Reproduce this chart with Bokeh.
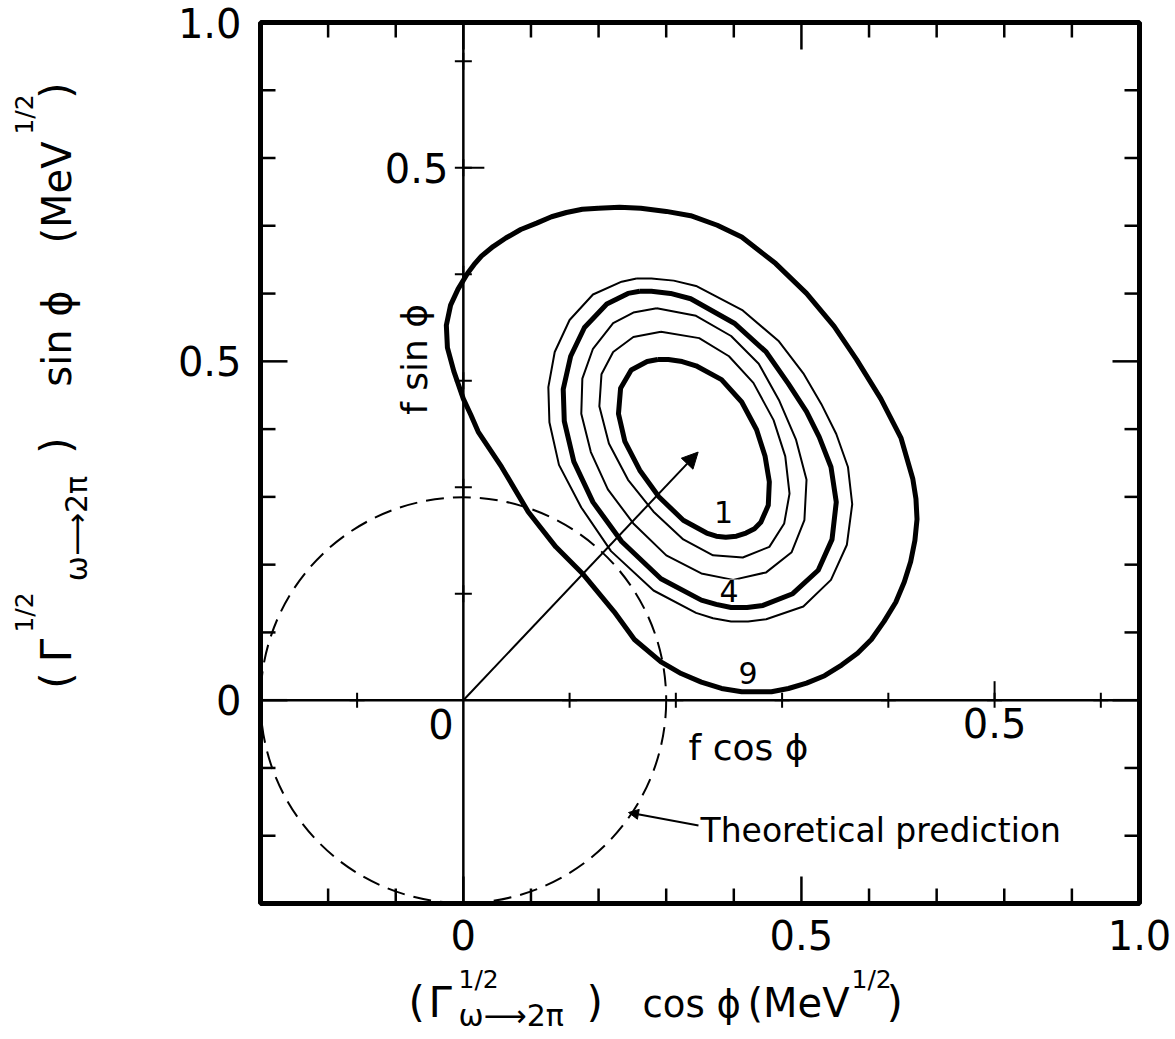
import numpy as np
from bokeh.plotting import figure
from bokeh.models import Range1d, Label, Arrow, NormalHead
from bokeh.core.properties import value
from bokeh.embed import file_html
from bokeh.resources import INLINE

# ---------------- data ----------------
BOX = (-0.3, 1.0)              # outer box, both axes: (Gamma^1/2) cos/sin phi (MeV^1/2)
F_PER_OUTER = 0.6364           # inner f-axes units per outer unit

OUTER_MAJOR = [0.0, 0.5]
OUTER_MINOR = [-0.2, -0.1, 0.1, 0.2, 0.3, 0.4, 0.6, 0.7, 0.8, 0.9]
OUTER_TICK_LABELS = [(0.0, "0"), (0.5, "0.5"), (1.0, "1.0")]

INNER_MINOR_X = [-0.1, 0.1, 0.2, 0.3, 0.4, 0.6]
INNER_MINOR_Y = [0.1, 0.2, 0.3, 0.4, 0.6]
INNER_MAJOR = [0.5]

THEORY_RADIUS = 0.3            # theoretical prediction circle (outer units)
ARROW_TIP_F = (0.221, 0.233)   # best fit (f cos phi, f sin phi)

# chi-square contours in (f cos phi, f sin phi)
c9_x = [0.127, 0.147, 0.167, 0.191, 0.214, 0.239, 0.262, 0.294, 0.323, 0.349, 0.370, 0.393,
        0.412, 0.423, 0.426, 0.427, 0.425, 0.421, 0.415, 0.407, 0.396, 0.384, 0.371, 0.356,
        0.340, 0.323, 0.306, 0.290, 0.262, 0.243, 0.224, 0.205, 0.186, 0.161, 0.142, 0.113,
        0.087, 0.061, 0.036, 0.014, 0.007, 0.000, -0.009, -0.015, -0.016, -0.012, -0.005,
        0.004, 0.010, 0.017, 0.028, 0.040, 0.054, 0.069, 0.083, 0.097, 0.112]
c9_y = [0.462, 0.463, 0.462, 0.459, 0.455, 0.446, 0.435, 0.410, 0.382, 0.351, 0.320, 0.283,
        0.246, 0.208, 0.189, 0.170, 0.150, 0.130, 0.111, 0.092, 0.074, 0.057, 0.044, 0.033,
        0.023, 0.016, 0.011, 0.008, 0.008, 0.011, 0.017, 0.025, 0.036, 0.057, 0.083, 0.118,
        0.144, 0.177, 0.219, 0.252, 0.268, 0.283, 0.309, 0.331, 0.352, 0.371, 0.386,
        0.401, 0.409, 0.417, 0.426, 0.434, 0.442, 0.448, 0.454, 0.458, 0.461]

cA_x = [0.163, 0.177, 0.198, 0.219, 0.263, 0.297, 0.320, 0.337, 0.351, 0.362, 0.366, 0.361,
        0.346, 0.320, 0.285, 0.268, 0.252, 0.235, 0.219, 0.179, 0.139, 0.111, 0.090, 0.081,
        0.080, 0.086, 0.100, 0.122, 0.149]
cA_y = [0.396, 0.396, 0.394, 0.389, 0.366, 0.337, 0.307, 0.278, 0.250, 0.219, 0.184, 0.146,
        0.113, 0.088, 0.076, 0.074, 0.074, 0.077, 0.082, 0.103, 0.140, 0.181, 0.221, 0.261,
        0.294, 0.327, 0.357, 0.381, 0.393]

c4_x = [0.166, 0.177, 0.195, 0.214, 0.255, 0.285, 0.306, 0.323, 0.335, 0.346, 0.351, 0.347,
        0.334, 0.310, 0.282, 0.267, 0.252, 0.238, 0.224, 0.186, 0.149, 0.122, 0.104, 0.095,
        0.094, 0.101, 0.114, 0.135, 0.155]
c4_y = [0.384, 0.384, 0.382, 0.377, 0.354, 0.327, 0.297, 0.271, 0.247, 0.219, 0.186, 0.151,
        0.122, 0.100, 0.089, 0.087, 0.087, 0.090, 0.094, 0.114, 0.149, 0.186, 0.224, 0.262,
        0.292, 0.323, 0.350, 0.372, 0.382]

cB_x = [0.182, 0.219, 0.252, 0.278, 0.297, 0.313, 0.323, 0.321, 0.309, 0.285, 0.254, 0.224, 0.191,
        0.160, 0.136, 0.120, 0.111, 0.112, 0.122, 0.141, 0.160]
cB_y = [0.368, 0.361, 0.342, 0.316, 0.282, 0.245, 0.207, 0.169, 0.139, 0.120, 0.113, 0.119, 0.136,
        0.166, 0.198, 0.233, 0.269, 0.302, 0.330, 0.354, 0.364]

cC_x = [0.186, 0.222, 0.250, 0.273, 0.292, 0.303, 0.307, 0.302, 0.288, 0.263, 0.235, 0.207, 0.179,
        0.155, 0.137, 0.128, 0.130, 0.141, 0.160]
cC_y = [0.346, 0.340, 0.323, 0.298, 0.263, 0.229, 0.194, 0.166, 0.144, 0.134, 0.136, 0.151, 0.177,
        0.207, 0.241, 0.276, 0.306, 0.327, 0.341]

c1_x = [0.183, 0.193, 0.206, 0.219, 0.243, 0.262, 0.276, 0.284, 0.288, 0.287, 0.280, 0.274,
        0.266, 0.257, 0.247, 0.238, 0.229, 0.207, 0.184, 0.166, 0.152, 0.146, 0.148, 0.158, 0.173]
c1_y = [0.320, 0.320, 0.318, 0.314, 0.301, 0.280, 0.254, 0.229, 0.205, 0.183, 0.167, 0.161,
        0.157, 0.154, 0.153, 0.154, 0.157, 0.169, 0.191, 0.216, 0.243, 0.269, 0.293, 0.310, 0.318]

CONTOURS = [  # (xs, ys, thick)
    (c9_x, c9_y, True), (cA_x, cA_y, False), (c4_x, c4_y, True),
    (cB_x, cB_y, False), (cC_x, cC_y, False), (c1_x, c1_y, True),
]
CONTOUR_LABELS = [("1", 0.245, 0.177), ("4", 0.250, 0.103), ("9", 0.268, 0.026)]

PHI = "\u03d5"
GAMMA = "\u0393"
SUB = "\u03c9\u27f62\u03c0"
# bottom title pieces: text, left x (px), centre y (px), font size
X_TITLE_PARTS = [("(", 408, 1002, 42), (GAMMA, 428, 1002, 42), ("1/2", 458, 979, 25),
                 (SUB, 458, 1015, 30), (")", 586, 1002, 42), ("cos " + PHI, 642, 1004, 37),
                 ("(MeV", 747, 1002, 40), ("1/2", 851, 979, 25), (")", 886, 1002, 42)]
# left title pieces: text, centre x (px), centre y (px), font size (rotated 90 deg)
Y_TITLE_PARTS = [("(", 56, 680, 42), (GAMMA, 56, 650, 42), ("1/2", 24, 612, 25),
                 (SUB, 76, 528, 30), (")", 56, 445, 42), ("sin " + PHI, 56, 338, 40),
                 ("(MeV", 56, 192, 40), ("1/2", 24, 114, 25), (")", 56, 90, 42)]

# ---------------- layout (pixels of the 1175 x 1039 page) ----------------
W, H = 1175, 1039
BOX_L, BOX_R, BOX_T, BOX_B = 260, 1139, 22, 903
FONT = "DejaVu Sans"
KX = (BOX_R - BOX_L) / (BOX[1] - BOX[0])   # px per unit
KY = (BOX_B - BOX_T) / (BOX[1] - BOX[0])

def sx(px):
    return BOX[0] + (px - BOX_L) / KX

def sy(py):
    return BOX[0] + (BOX_B - py) / KY

x0, x1 = sx(0), sx(W)
y0, y1 = sy(H), sy(0)

p = figure(width=W, height=H, x_range=Range1d(x0, x1), y_range=Range1d(y0, y1),
           output_backend="svg", toolbar_location=None, title=None, min_border=0,
           x_axis_location=None, y_axis_location=None)
p.extra_x_ranges = {"f": Range1d(x0 * F_PER_OUTER, x1 * F_PER_OUTER)}
p.extra_y_ranges = {"f": Range1d(y0 * F_PER_OUTER, y1 * F_PER_OUTER)}
p.xgrid.visible = False
p.ygrid.visible = False
p.outline_line_color = None
p.background_fill_color = "white"
p.border_fill_color = "white"

# outer box
p.quad(left=BOX[0], right=BOX[1], bottom=BOX[0], top=BOX[1], fill_color=None,
       line_color="black", line_width=5)

# outer ticks, inward on all four sides
for ticks, length in ((OUTER_MINOR, 15), (OUTER_MAJOR, 27)):
    n = len(ticks)
    common = dict(length=length, length_units="screen", line_width=2.5, color="black")
    p.ray(x=ticks, y=[BOX[0]] * n, angle=np.pi / 2, **common)     # bottom
    p.ray(x=ticks, y=[BOX[1]] * n, angle=-np.pi / 2, **common)    # top
    p.ray(x=[BOX[0]] * n, y=ticks, angle=0.0, **common)           # left
    p.ray(x=[BOX[1]] * n, y=ticks, angle=np.pi, **common)         # right

# outer tick labels
tv = [v for v, _ in OUTER_TICK_LABELS]
tt = [t for _, t in OUTER_TICK_LABELS]
p.text(x=tv, y=[sy(934)] * len(tv), text=tt, text_font=value(FONT), text_font_size="40px",
       text_align="center", text_baseline="middle", text_color="black")
p.text(x=[sx(241)] * len(tv), y=tv, text=tt, text_font=value(FONT), text_font_size="40px",
       text_align="right", text_baseline="middle", text_color="black")

# inner f axes
p.segment(x0=[BOX[0], 0], y0=[0, BOX[0]], x1=[BOX[1], 0], y1=[0, BOX[1]],
          line_color="black", line_width=2.5)
p.scatter(x=INNER_MINOR_X, y=[0] * len(INNER_MINOR_X), marker="cross", size=15,
          line_width=2, color="black", x_range_name="f", y_range_name="f")
p.scatter(x=[0] * len(INNER_MINOR_Y), y=INNER_MINOR_Y, marker="cross", size=17,
          line_width=2, color="black", x_range_name="f", y_range_name="f")
p.scatter(x=INNER_MAJOR, y=[0], marker="cross", size=15, line_width=2, color="black",
          x_range_name="f", y_range_name="f")
p.ray(x=INNER_MAJOR, y=[0], length=19, length_units="screen", angle=np.pi / 2,
      line_width=2, color="black", x_range_name="f", y_range_name="f")
p.scatter(x=[0], y=INNER_MAJOR, marker="cross", size=17, line_width=2, color="black",
          x_range_name="f", y_range_name="f")
p.ray(x=[0], y=INNER_MAJOR, length=21, length_units="screen", angle=0,
      line_width=2, color="black", x_range_name="f", y_range_name="f")

# theoretical prediction circle
p.circle(x=0, y=0, radius=THEORY_RADIUS, fill_color=None, line_color="black",
         line_width=2, line_dash="18 9")

# contours
for xs, ys, thick in CONTOURS:
    p.line(x=list(xs) + [xs[0]], y=list(ys) + [ys[0]], line_color="black",
           line_width=5 if thick else 2, line_join="round",
           x_range_name="f", y_range_name="f")

# best fit arrow
p.add_layout(Arrow(x_start=0, y_start=0, x_end=ARROW_TIP_F[0], y_end=ARROW_TIP_F[1],
                   x_range_name="f", y_range_name="f", line_width=2, line_color="black",
                   end=NormalHead(size=16, fill_color="black", line_color="black")))

def lab(text, x, y, size, angle=0.0, align="left", baseline="middle", f=False, bg=None):
    kw = dict(x_range_name="f", y_range_name="f") if f else {}
    p.add_layout(Label(x=x, y=y, text=text, text_font=FONT, text_font_size=f"{size}px",
                       angle=angle, text_align=align, text_baseline=baseline,
                       text_color="black", background_fill_color=bg, **kw))

for t, x, y in CONTOUR_LABELS:
    lab(t, x, y, 30, align="center", f=True, bg="white")

# inner axis annotations
lab("0.5", -0.044, 0.5, 40, align="center", f=True)
lab("0", -0.021, -0.022, 40, align="center", f=True)
lab("0.5", 0.5, -0.021, 40, align="center", f=True)
lab("f cos " + PHI, 0.212, -0.044, 36, align="left", f=True)
lab("f sin " + PHI, -0.046, 0.320, 36, angle=np.pi / 2, align="center", f=True)

# theoretical prediction note
p.add_layout(Arrow(x_start=sx(698), y_start=sy(825), x_end=sx(628), y_end=sy(812),
                   line_width=2, line_color="black",
                   end=NormalHead(size=10, fill_color="black", line_color="black")))
lab("Theoretical prediction", sx(700), sy(830), 33, align="left")

# composite axis titles (with sub/superscripts)
for t, px, py, s in X_TITLE_PARTS:
    lab(t, sx(px), sy(py), s, align="left")
for t, px, py, s in Y_TITLE_PARTS:
    lab(t, sx(px), sy(py), s, angle=np.pi / 2, align="center")

open("out.html", "w").write(file_html(p, INLINE))
